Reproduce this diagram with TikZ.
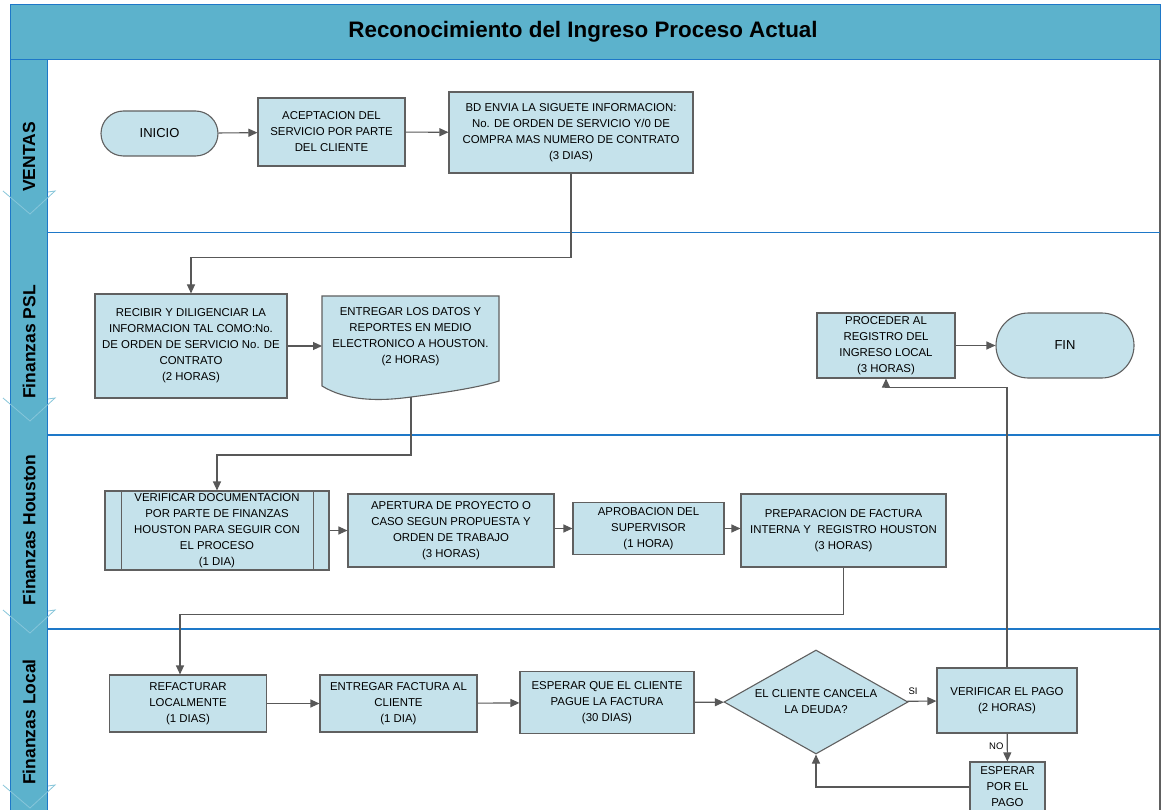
\documentclass[tikz,border=0pt]{standalone}
\usepackage{fontspec}
\setmainfont{Liberation Sans}
\usetikzlibrary{arrows.meta,shapes.geometric,shapes.misc}

\definecolor{laneteal}{RGB}{92,178,204}
\definecolor{laneblue}{RGB}{30,120,200}
\definecolor{boxfill}{RGB}{197,226,235}
\definecolor{boxline}{RGB}{96,96,96}
\definecolor{chevron}{RGB}{135,198,218}
\definecolor{wire}{RGB}{88,88,88}

\tikzset{
  boxtext/.style={font=\fontsize{11.4}{16}\selectfont, align=center},
  procbox/.style={boxtext, draw=boxline, fill=boxfill, line width=1.1pt,
    inner sep=0pt, rectangle},
  termbox/.style={procbox, rounded rectangle, font=\fontsize{13}{16}\selectfont},
  decbox/.style={procbox, diamond, shape aspect=1.77},
  flow/.style={draw=wire, line width=1.1pt, -{Triangle[length=9pt,width=8pt]}},
  lanelabel/.style={font=\bfseries\fontsize{17.5}{20}\selectfont, rotate=90},
  lanesep/.style={draw=laneblue, line width=1.3pt},
  chev/.style={draw=chevron, line width=0.8pt},
  tag/.style={font=\fontsize{9.5}{11}\selectfont}
}

\begin{document}
\begin{tikzpicture}[x=1pt,y=-1pt]
\useasboundingbox (0,0) rectangle (1162,810);
\fill[white] (0,0) rectangle (1162,810);

% pool frame: title bar, lane header column, right border
\draw[fill=laneteal, draw=laneblue, line width=1pt] (10,5) rectangle (1160,60);
\node[font=\bfseries\fontsize{22.4}{26}\selectfont] (title) at (583,32) {Reconocimiento del Ingreso Proceso Actual};
\draw[fill=laneteal, draw=laneblue, line width=1pt] (10,60) rectangle (47,812);
\draw[draw=boxline, line width=1.4pt] (1160,60) -- (1160,812);

% lane separators
\draw[lanesep] (47,232.5) -- (1160,232.5);
\draw[lanesep] (47,435) -- (1160,435);
\draw[lanesep] (47,629) -- (1160,629);

% lane names
\node[lanelabel] (lventas) at (29,157) {VENTAS};
\node[lanelabel] (lpsl) at (29,342) {Finanzas PSL};
\node[lanelabel] (lhou) at (29,530) {Finanzas Houston};
\node[lanelabel] (lloc) at (29,722) {Finanzas Local};

% lane chevrons
\foreach \cy in {191,398,610,785}{
  \draw[chev] (3,\cy) -- (30,\cy+23) -- (55,\cy) -- (48,\cy+1);
}

% VENTAS
\node[termbox, minimum width=117pt, minimum height=45pt] (inicio) at (159.5,133.5) {INICIO};
\node[procbox, minimum width=147pt, minimum height=68pt] (acept) at (331.5,132)
  {ACEPTACION DEL\\SERVICIO POR PARTE\\DEL CLIENTE};
\node[procbox, minimum width=244pt, minimum height=81pt] (bd) at (571,132.5)
  {BD ENVIA LA SIGUETE INFORMACION:\\No. DE ORDEN DE SERVICIO Y/0 DE\\COMPRA MAS NUMERO DE CONTRATO\\(3 DIAS)};

% Finanzas PSL
\node[procbox, minimum width=192pt, minimum height=104pt] (recibir) at (191,346)
  {RECIBIR Y DILIGENCIAR LA\\INFORMACION TAL COMO:No.\\DE ORDEN DE SERVICIO No. DE\\CONTRATO\\(2 HORAS)};
\draw[draw=boxline, fill=boxfill, line width=1.1pt]
  (322,296) -- (499,296) -- (499,381)
  .. controls (480,387) and (450,392) .. (411,397)
  .. controls (375,402) and (345,400) .. (322,386) -- cycle;
\node[boxtext] (datos) at (410.5,337)
  {ENTREGAR LOS DATOS Y\\REPORTES EN MEDIO\\ELECTRONICO A HOUSTON.\\(2 HORAS)};
\coordinate (datosw) at (322,346);
\coordinate (datosb) at (411,397);
\node[procbox, minimum width=138pt, minimum height=65pt] (proc) at (886,345.5)
  {PROCEDER AL\\REGISTRO DEL\\INGRESO LOCAL\\(3 HORAS)};
\node[termbox, minimum width=138pt, minimum height=65pt] (fin) at (1065,345.5) {FIN};

% Finanzas Houston
\node[procbox, minimum width=224pt, minimum height=79pt] (verif) at (217,530.5)
  {VERIFICAR DOCUMENTACION\\POR PARTE DE FINANZAS\\HOUSTON PARA SEGUIR CON\\EL PROCESO\\(1 DIA)};
\draw[draw=boxline, line width=1.1pt]
  ([xshift=17pt]verif.north west) -- ([xshift=17pt]verif.south west)
  ([xshift=-16pt]verif.north east) -- ([xshift=-16pt]verif.south east);
\node[procbox, minimum width=206pt, minimum height=73pt] (apert) at (451,530.5)
  {APERTURA DE PROYECTO O\\CASO SEGUN PROPUESTA Y\\ORDEN DE TRABAJO\\(3 HORAS)};
\node[procbox, minimum width=151pt, minimum height=52pt] (aprob) at (648.5,528.5)
  {APROBACION DEL\\SUPERVISOR\\(1 HORA)};
\node[procbox, minimum width=205pt, minimum height=73pt] (prep) at (843.5,530.5)
  {PREPARACION DE FACTURA\\INTERNA Y\ \ REGISTRO HOUSTON\\(3 HORAS)};

% Finanzas Local
\node[procbox, minimum width=157pt, minimum height=57pt] (refac) at (188,703.5)
  {REFACTURAR\\LOCALMENTE\\(1 DIAS)};
\node[procbox, minimum width=157pt, minimum height=57pt] (entfac) at (398.5,703.5)
  {ENTREGAR FACTURA AL\\CLIENTE\\(1 DIA)};
\node[procbox, minimum width=174pt, minimum height=62pt] (espera) at (607,702.5)
  {ESPERAR QUE EL CLIENTE\\PAGUE LA FACTURA\\(30 DIAS)};
\node[decbox, minimum width=184pt, minimum height=104pt] (dec) at (816,702)
  {EL CLIENTE CANCELA\\LA DEUDA?};
\node[procbox, minimum width=140pt, minimum height=65pt] (vpago) at (1007,700.5)
  {VERIFICAR EL PAGO\\(2 HORAS)};
\node[procbox, minimum width=75pt, minimum height=50pt] (espago) at (1007.5,787)
  {ESPERAR\\POR EL\\PAGO};

% connectors
\draw[flow] (inicio) -- (acept);
\draw[flow] (acept) -- (bd);
\draw[flow] (bd.south) -- ++(0,84) -| (recibir.north);
\draw[flow] (recibir.east) -- (datosw);
\draw[flow] (datosb) -- ++(0,58) -| (verif.north);
\draw[flow] (verif) -- (apert);
\draw[flow] (apert.east |- aprob.west) -- (aprob.west);
\draw[flow] (aprob) -- (prep.west |- aprob.east);
\draw[flow] (prep.south) -- ++(0,47) -| ([xshift=-8pt]refac.north);
\draw[flow] (refac) -- (entfac);
\draw[flow] (entfac) -- (espera);
\draw[flow] (espera) -- (dec);
\draw[flow] (dec) -- node[tag, above, pos=0.2, yshift=3pt] (si) {SI} (vpago);
\draw[flow] (vpago) -- node[tag, left, pos=0.45] (no) {NO} (espago);
\draw[flow] (espago.west) -| (dec.south);
\draw[flow] (vpago.north) -- ++(0,-280) -| (proc.south);
\draw[flow] (proc) -- (fin);
\end{tikzpicture}
\end{document}
